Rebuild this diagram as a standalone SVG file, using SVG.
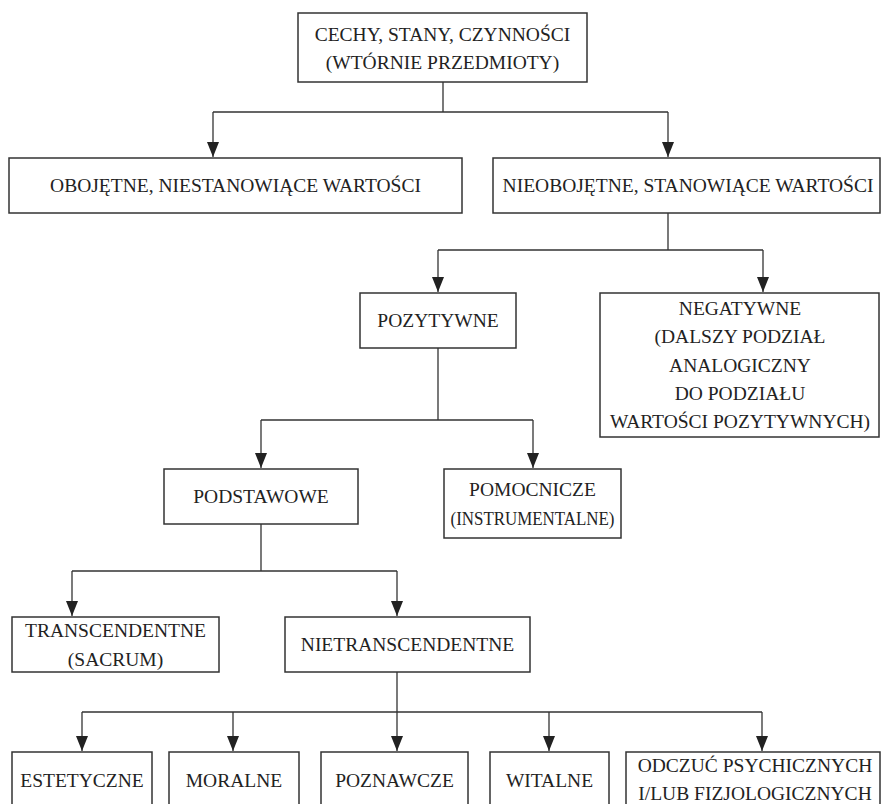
<svg xmlns="http://www.w3.org/2000/svg" width="881" height="804" viewBox="0 0 881 804">
  <style>
    .box { fill: #ffffff; stroke: #333333; stroke-width: 1.5; }
    .lbl { font-size: 19.5px; fill: #222222; text-anchor: middle; }
    .edge { fill: none; stroke: #333333; stroke-width: 1.3; }
    .arr { marker-end: url(#head); }
  </style>
  <defs>
    <marker id="head" viewBox="0 0 15 12" refX="15" refY="6" markerWidth="15" markerHeight="12" markerUnits="userSpaceOnUse" orient="auto">
      <path d="M0,0 L15,6 L0,12 z" fill="#222222"/>
    </marker>
  </defs>
  <rect width="881" height="804" fill="#ffffff"/>

  <!-- connectors -->
  <g id="connectors">
    <path class="edge" d="M443,82 V112 M213,112 H668"/>
    <path class="edge arr" d="M213,112 V157"/>
    <path class="edge arr" d="M668,112 V157"/>

    <path class="edge" d="M668,213 V250 M438,250 H763"/>
    <path class="edge arr" d="M438,250 V292"/>
    <path class="edge arr" d="M763,250 V292"/>

    <path class="edge" d="M438,348 V420 M261,420 H533"/>
    <path class="edge arr" d="M261,420 V468"/>
    <path class="edge arr" d="M533,420 V468"/>

    <path class="edge" d="M261,524 V571 M72,571 H397"/>
    <path class="edge arr" d="M72,571 V616"/>
    <path class="edge arr" d="M397,571 V616"/>

    <path class="edge" d="M397,672 V712 M82,712 H762"/>
    <path class="edge arr" d="M82,712 V751"/>
    <path class="edge arr" d="M233,712 V751"/>
    <path class="edge arr" d="M397,712 V751"/>
    <path class="edge arr" d="M549,712 V751"/>
    <path class="edge arr" d="M762,712 V751"/>
  </g>

  <!-- nodes -->
  <g id="nodes" font-family="Liberation Serif, Tinos, Times New Roman, DejaVu Serif, serif">
  <g id="root">
    <rect class="box" x="298" y="13" width="289" height="69"/>
    <text class="lbl" x="442.5" y="41">CECHY, STANY, CZYNNOŚCI</text>
    <text class="lbl" x="442.5" y="69">(WTÓRNIE PRZEDMIOTY)</text>
  </g>

  <g id="obojetne">
    <rect class="box" x="9" y="158" width="453" height="55"/>
    <text class="lbl" x="235.5" y="192">OBOJĘTNE, NIESTANOWIĄCE WARTOŚCI</text>
  </g>

  <g id="nieobojetne">
    <rect class="box" x="493" y="158" width="387" height="55"/>
    <text class="lbl" x="688" y="192">NIEOBOJĘTNE, STANOWIĄCE WARTOŚCI</text>
  </g>

  <g id="pozytywne">
    <rect class="box" x="360" y="293" width="156" height="55"/>
    <text class="lbl" x="438" y="327">POZYTYWNE</text>
  </g>

  <g id="negatywne">
    <rect class="box" x="600" y="293" width="279" height="144"/>
    <text class="lbl" x="740" y="315">NEGATYWNE</text>
    <text class="lbl" x="740" y="343">(DALSZY PODZIAŁ</text>
    <text class="lbl" x="740" y="372">ANALOGICZNY</text>
    <text class="lbl" x="740" y="400">DO PODZIAŁU</text>
    <text class="lbl" x="740" y="428">WARTOŚCI POZYTYWNYCH)</text>
  </g>

  <g id="podstawowe">
    <rect class="box" x="164" y="469" width="194" height="55"/>
    <text class="lbl" x="261" y="503">PODSTAWOWE</text>
  </g>

  <g id="pomocnicze">
    <rect class="box" x="444" y="469" width="177" height="69"/>
    <text class="lbl" x="532.5" y="496">POMOCNICZE</text>
    <text class="lbl" x="532.5" y="525" textLength="164" lengthAdjust="spacingAndGlyphs">(INSTRUMENTALNE)</text>
  </g>

  <g id="transcendentne">
    <rect class="box" x="12" y="617" width="207" height="55"/>
    <text class="lbl" x="115.5" y="637">TRANSCENDENTNE</text>
    <text class="lbl" x="115.5" y="666">(SACRUM)</text>
  </g>

  <g id="nietranscendentne">
    <rect class="box" x="285" y="617" width="245" height="55"/>
    <text class="lbl" x="407.5" y="651">NIETRANSCENDENTNE</text>
  </g>

  <g id="estetyczne">
    <rect class="box" x="12" y="752" width="140" height="60"/>
    <text class="lbl" x="82" y="787">ESTETYCZNE</text>
  </g>

  <g id="moralne">
    <rect class="box" x="169" y="752" width="130" height="60"/>
    <text class="lbl" x="234" y="787">MORALNE</text>
  </g>

  <g id="poznawcze">
    <rect class="box" x="321" y="752" width="147" height="60"/>
    <text class="lbl" x="394.5" y="787">POZNAWCZE</text>
  </g>

  <g id="witalne">
    <rect class="box" x="490" y="752" width="119" height="60"/>
    <text class="lbl" x="549.5" y="787">WITALNE</text>
  </g>

  <g id="odczuc">
    <rect class="box" x="626" y="752" width="254" height="60"/>
    <text class="lbl" x="755" y="772">ODCZUĆ PSYCHICZNYCH</text>
    <text class="lbl" x="755" y="800">I/LUB FIZJOLOGICZNYCH</text>
  </g>
  </g>
</svg>
